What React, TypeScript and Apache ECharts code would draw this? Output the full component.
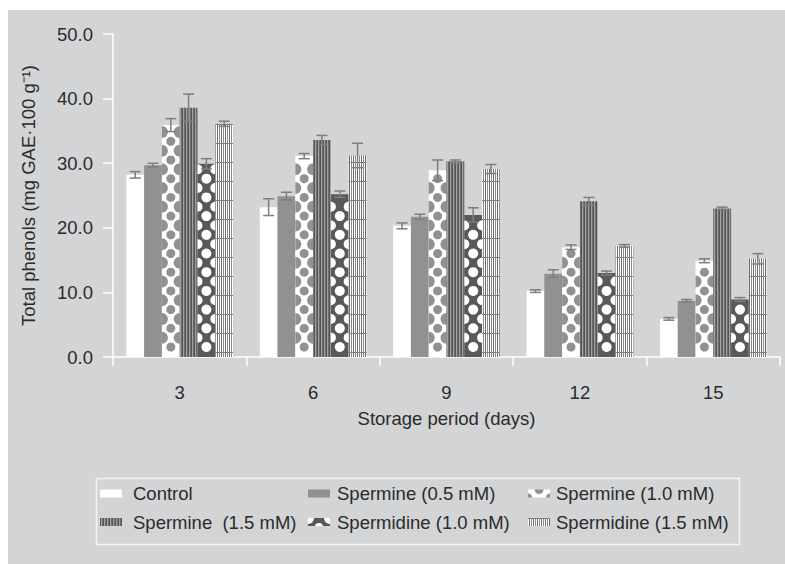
import React, { useEffect, useRef } from 'react';
import * as echarts from 'echarts';

const categories = ['3', '6', '9', '12', '15'];
const seriesNames = [
  'Control',
  'Spermine (0.5 mM)',
  'Spermine (1.0 mM)',
  'Spermine  (1.5 mM)',
  'Spermidine (1.0 mM)',
  'Spermidine (1.5 mM)',
];
const controlValues = [28.2, 23.2, 20.3, 10.2, 5.9];
const controlErr = [0.5, 1.3, 0.45, 0.2, 0.2];
const spm05Values = [29.7, 24.9, 21.7, 12.9, 8.7];
const spm05Err = [0.3, 0.6, 0.4, 0.6, 0.2];
const spm10Values = [35.9, 31.1, 28.9, 17.0, 14.9];
const spm10Err = [1.0, 0.4, 1.6, 0.35, 0.3];
const spm15Values = [38.6, 33.6, 30.3, 24.1, 23.0];
const spm15Err = [2.1, 0.7, 0.2, 0.6, 0.2];
const spd10Values = [29.9, 25.2, 22.0, 13.0, 8.9];
const spd10Err = [0.8, 0.5, 1.1, 0.3, 0.3];
const spd15Values = [36.1, 31.2, 29.1, 17.2, 15.2];
const spd15Err = [0.4, 1.9, 0.7, 0.2, 0.8];
const yTicks = [0, 10, 20, 30, 40, 50];

const allValues = [controlValues, spm05Values, spm10Values, spm15Values, spd10Values, spd15Values];
const allErr = [controlErr, spm05Err, spm10Err, spm15Err, spd10Err, spd15Err];

const BG = '#d3d4d6';
const GRAY = '#909193';
const DARK = '#58595b';
const ERR = '#7d7e80';
const TXT = '#2b2b2b';
const FONT = "'Liberation Sans', Arial, sans-serif";
const AX_FS = 18.5;
const LEG_FS = 18.5;

function makeCanvas(w: number, h: number, draw: (ctx: CanvasRenderingContext2D) => void) {
  const c = document.createElement('canvas');
  c.width = w;
  c.height = h;
  const ctx = c.getContext('2d')!;
  draw(ctx);
  return c;
}

function stripes15(ctx: CanvasRenderingContext2D, w: number, h: number) {
  const cols = ['#555658', '#a0a1a3', '#6c6d6f'];
  for (let x = 0; x < w; x++) {
    ctx.fillStyle = cols[x % 3];
    ctx.fillRect(x, 0, 1, h);
  }
}
function stripesSpd15(ctx: CanvasRenderingContext2D, w: number, h: number, rowStep: number) {
  const cols = ['#ffffff', '#6a6b6d', '#ffffff', '#8a8b8d'];
  for (let x = 0; x < w; x++) {
    ctx.fillStyle = cols[x % 4];
    ctx.fillRect(x, 0, 1, h);
  }
  ctx.fillStyle = '#7e7f81';
  for (let y = 0; y < h; y += rowStep) ctx.fillRect(0, y, w, 1);
}

export default function App() {
  const ref = useRef<HTMLDivElement>(null);
  useEffect(() => {
    if (!ref.current) return;
    const chart = echarts.init(ref.current, undefined, { renderer: 'svg' });

    const pat15 = makeCanvas(3, 4, (ctx) => stripes15(ctx, 3, 4));
    const patSpd15 = makeCanvas(4, 19, (ctx) => stripesSpd15(ctx, 4, 19, 19));
    const fills: any[] = [
      '#ffffff',
      GRAY,
      '#ffffff',
      { image: pat15, repeat: 'repeat' },
      DARK,
      { image: patSpd15, repeat: 'repeat' },
    ];

    const IW = 22, IH = 8;
    const icon = (pad: number, draw: (ctx: CanvasRenderingContext2D) => void) =>
      'image://' + makeCanvas(IW + pad, IH, draw).toDataURL();
    const iconDraws: ((c: CanvasRenderingContext2D) => void)[] = [
      (c) => { c.fillStyle = '#fff'; c.fillRect(0, 0, IW, IH); },
      (c) => { c.fillStyle = GRAY; c.fillRect(0, 0, IW, IH); },
      (c) => {
        c.fillStyle = '#fff'; c.fillRect(0, 0, IW, IH);
        c.fillStyle = GRAY;
        c.beginPath(); c.arc(IW / 2, 0, 4.5, 0, Math.PI); c.fill();
        c.beginPath(); c.arc(0, IH, 4, -Math.PI / 2, 0); c.lineTo(0, IH); c.fill();
        c.beginPath(); c.arc(IW, IH, 4, Math.PI, Math.PI * 1.5); c.lineTo(IW, IH); c.fill();
      },
      (c) => stripes15(c, IW, IH),
      (c) => {
        c.fillStyle = DARK; c.fillRect(0, 0, IW, IH);
        c.fillStyle = '#fff';
        c.beginPath(); c.arc(0, 0, 6, 0, Math.PI / 2); c.lineTo(0, 0); c.fill();
        c.beginPath(); c.arc(IW, 0, 6, Math.PI / 2, Math.PI); c.lineTo(IW, 0); c.fill();
        c.beginPath(); c.arc(IW / 2, IH + 1, 4, Math.PI, Math.PI * 2); c.fill();
      },
      (c) => stripesSpd15(c, IW, IH, 100),
    ];

    const makeRender = (idx: number) => (params: any, api: any) => {
      const cat = api.value(0) as number;
      const v = api.value(1) as number;
      const e = api.value(2) as number;
      const base = api.coord([cat, 0]);
      const top = api.coord([cat, v]);
      const band = api.size([1, 0])[0];
      const groupW = band * 0.8;
      const w = groupW / 6;
      const x0 = base[0] - groupW / 2 + idx * w;
      const cx = x0 + w / 2;
      const yT = top[1];
      const yB = base[1];
      const children: any[] = [
        { type: 'rect', shape: { x: x0, y: yT, width: w, height: yB - yT }, style: { fill: fills[idx] } },
      ];
      if (idx === 2 || idx === 4) {
        const fill = idx === 2 ? GRAY : '#ffffff';
        const rc = idx === 2 ? 4.5 : 5;
        const re = idx === 2 ? 6 : 5;
        const step = 18.7;
        for (let k = 0; k < 40; k++) {
          const cy = yB - 10 - k * step;
          if (cy - rc < yT) break;
          children.push({ type: 'circle', shape: { cx, cy, r: rc }, style: { fill } });
        }
        for (let k = 0; k < 40; k++) {
          const cy = yB - 10 - (k + 0.5) * step;
          if (cy - re < yT) break;
          children.push({
            type: 'sector',
            shape: { cx: x0, cy, r: re, r0: 0, startAngle: -Math.PI / 2, endAngle: Math.PI / 2, clockwise: true },
            style: { fill },
          });
          children.push({
            type: 'sector',
            shape: { cx: x0 + w, cy, r: re, r0: 0, startAngle: Math.PI / 2, endAngle: Math.PI * 1.5, clockwise: true },
            style: { fill },
          });
        }
      }
      const yE1 = api.coord([cat, v + e])[1];
      const yE2 = api.coord([cat, v - e])[1];
      const cap = 5.5;
      const es = { stroke: ERR, lineWidth: 1.5 };
      children.push({ type: 'line', shape: { x1: cx, y1: yE1, x2: cx, y2: yE2 }, style: es });
      children.push({ type: 'line', shape: { x1: cx - cap, y1: yE1, x2: cx + cap, y2: yE1 }, style: es });
      children.push({ type: 'line', shape: { x1: cx - cap, y1: yE2, x2: cx + cap, y2: yE2 }, style: es });
      return { type: 'group', children };
    };

    const series = seriesNames.map((name, idx) => ({
      type: 'custom',
      name,
      renderItem: makeRender(idx),
      encode: { x: 0, y: 1 },
      itemStyle: { color: typeof fills[idx] === 'string' ? fills[idx] : GRAY },
      data: allValues[idx].map((v, i) => [i, v, allErr[idx][i]]),
    }));

    const legendText = { fontSize: LEG_FS, color: TXT, fontFamily: FONT };
    const mkLegend = (left: number, pad: number, names: number[]) => ({
      orient: 'vertical',
      left,
      top: 474,
      itemWidth: IW + pad,
      itemHeight: IH,
      itemGap: 9.5,
      padding: 0,
      selectedMode: false,
      textStyle: legendText,
      data: names.map((i) => ({ name: seriesNames[i], icon: icon(pad, iconDraws[i]) })),
    });

    chart.setOption({
      animation: false,
      backgroundColor: BG,
      grid: { left: 105, right: 5, top: 24, bottom: 207 },
      xAxis: {
        type: 'category',
        data: categories,
        name: 'Storage period (days)',
        nameLocation: 'middle',
        nameGap: 52,
        nameTextStyle: { fontSize: AX_FS, color: TXT, fontFamily: FONT },
        axisLine: { lineStyle: { color: '#ffffff', width: 1.5 } },
        axisTick: { show: true, length: 9, lineStyle: { color: '#ffffff', width: 1.5 } },
        axisLabel: { margin: 26, fontSize: AX_FS, color: TXT, fontFamily: FONT },
        splitLine: { show: false },
      },
      yAxis: {
        type: 'value',
        min: yTicks[0],
        max: yTicks[yTicks.length - 1],
        interval: 10,
        name: 'Total phenols (mg GAE·100 g⁻¹)',
        nameLocation: 'middle',
        nameGap: 75,
        nameTextStyle: { fontSize: AX_FS, color: TXT, fontFamily: FONT },
        axisLine: { show: true, lineStyle: { color: '#ffffff', width: 1.5 } },
        axisTick: { show: true, length: 10, lineStyle: { color: '#ffffff', width: 1.5 } },
        axisLabel: { margin: 20, fontSize: AX_FS, color: TXT, fontFamily: FONT, formatter: (v: number) => v.toFixed(1) },
        splitLine: { show: false },
      },
      legend: [mkLegend(92, 6, [0, 3]), mkLegend(300, 2, [1, 4]), mkLegend(520, 1, [2, 5])],
      graphic: [
        {
          type: 'rect',
          left: 86,
          top: 466,
          shape: { width: 643, height: 66 },
          style: { fill: 'none', stroke: '#f4f4f4', lineWidth: 1.5 },
          z: -1,
        },
      ],
      series,
    } as any);
    return () => chart.dispose();
  }, []);
  return (
    <div
      ref={ref}
      style={{ position: 'absolute', left: 8, top: 10, width: 777, height: 554 }}
    />
  );
}
